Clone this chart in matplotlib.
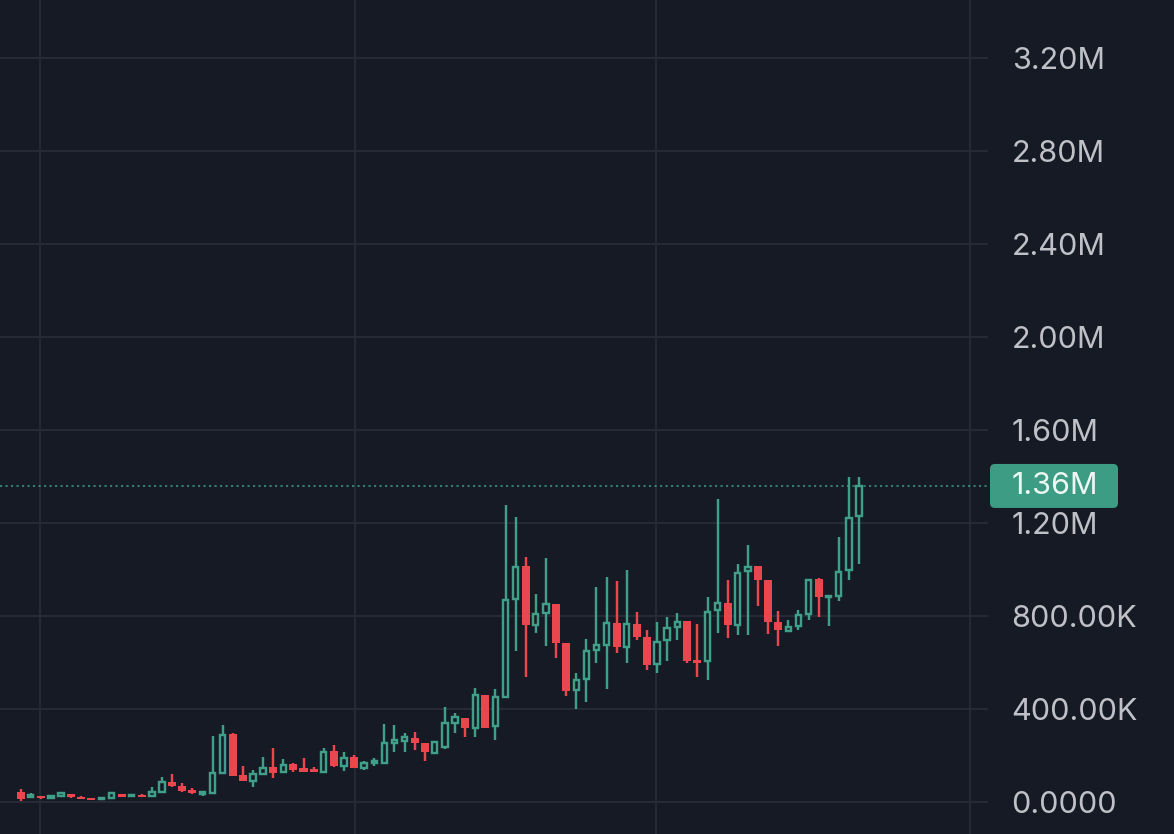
import matplotlib
matplotlib.use("Agg")
import matplotlib.pyplot as plt
from matplotlib.patches import Rectangle, FancyBboxPatch
from matplotlib.transforms import IdentityTransform, blended_transform_factory

# OHLC values (in units)
opens = [42e3, 20e3, 26e3, 19e3, 26e3, 33e3, 23e3, 17e3, 11.5e3, 16e3,
         34e3, 24e3, 32e3, 24e3, 44e3, 88e3, 70e3, 53e3, 33e3, 40e3,
         126e3, 292e3, 116e3, 90e3, 121e3, 150e3, 128e3, 162e3, 145e3, 140e3,
         131e3, 221e3, 156e3, 193e3, 148e3, 167e3, 169e3, 253e3, 264e3, 277e3,
         253e3, 210e3, 237e3, 339e3, 361e3, 318e3, 461e3, 325e3, 451e3, 875e3,
         1014e3, 763e3, 813e3, 853e3, 684e3, 480e3, 529e3, 654e3, 677e3, 770e3,
         669e3, 767e3, 712e3, 593e3, 698e3, 753e3, 777e3, 612e3, 605e3, 825e3,
         856e3, 763e3, 993e3, 1014e3, 954e3, 775e3, 734e3, 756e3, 810e3, 960e3,
         882e3, 888e3, 998e3, 1230e3]
highs = [55e3, 40e3, 27e3, 27e3, 44e3, 36e3, 24e3, 18e3, 20e3, 42e3,
         36e3, 33e3, 33e3, 64e3, 106e3, 120e3, 80e3, 60e3, 47e3, 284e3,
         331e3, 297e3, 155e3, 138e3, 193e3, 231e3, 184e3, 168e3, 188e3, 152e3,
         234e3, 246e3, 217e3, 203e3, 178e3, 191e3, 336e3, 332e3, 296e3, 300e3,
         253e3, 260e3, 410e3, 385e3, 361e3, 490e3, 461e3, 486e3, 1280e3, 1227e3,
         1055e3, 897e3, 1050e3, 853e3, 684e3, 555e3, 701e3, 925e3, 969e3, 952e3,
         1000e3, 818e3, 741e3, 773e3, 796e3, 813e3, 777e3, 767e3, 882e3, 1302e3,
         957e3, 1026e3, 1108e3, 1014e3, 954e3, 820e3, 781e3, 825e3, 954e3, 964e3,
         888e3, 1139e3, 1400e3, 1400e3]
lows = [5e3, 20e3, 15e3, 18e3, 26e3, 19e3, 12e3, 7e3, 10e3, 15e3,
        22e3, 23e3, 22e3, 20e3, 40e3, 64e3, 42e3, 35e3, 24e3, 40e3,
        126e3, 113e3, 90e3, 63e3, 121e3, 102e3, 128e3, 131e3, 128e3, 127e3,
        131e3, 150e3, 135e3, 145e3, 138e3, 156e3, 169e3, 217e3, 217e3, 224e3,
        178e3, 210e3, 228e3, 299e3, 279e3, 279e3, 318e3, 267e3, 451e3, 648e3,
        540e3, 727e3, 672e3, 619e3, 457e3, 400e3, 432e3, 600e3, 486e3, 641e3,
        598e3, 698e3, 566e3, 557e3, 605e3, 698e3, 600e3, 540e3, 526e3, 727e3,
        706e3, 720e3, 720e3, 842e3, 724e3, 672e3, 734e3, 741e3, 781e3, 796e3,
        759e3, 863e3, 957e3, 1022e3]
closes = [12e3, 30e3, 16e3, 26e3, 37e3, 20e3, 13e3, 8.6e3, 18.7e3, 37e3,
          23e3, 32e3, 23e3, 44e3, 85e3, 68e3, 48e3, 37e3, 44e3, 125e3,
          289e3, 114e3, 91e3, 119e3, 148e3, 124e3, 159e3, 138e3, 131e3, 130e3,
          217e3, 155e3, 191e3, 145e3, 167e3, 177e3, 253e3, 267e3, 279e3, 253e3,
          214e3, 260e3, 342e3, 365e3, 318e3, 461e3, 318e3, 452e3, 871e3, 1012e3,
          763e3, 810e3, 853e3, 684e3, 478e3, 523e3, 651e3, 674e3, 770e3, 668e3,
          767e3, 712e3, 590e3, 688e3, 749e3, 773e3, 605e3, 600e3, 818e3, 856e3,
          763e3, 986e3, 1012e3, 957e3, 775e3, 738e3, 753e3, 803e3, 954e3, 882e3,
          888e3, 988e3, 1223e3, 1360e3]

tick_values = [0, 400e3, 800e3, 1.2e6, 1.6e6, 2.0e6, 2.4e6, 2.8e6, 3.2e6]
tick_labels = ["0.0000", "400.00K", "800.00K", "1.20M", "1.60M",
               "2.00M", "2.40M", "2.80M", "3.20M"]
month_lines = [1.9, 33.1, 62.9, 94.0]
last_label = "1.36M"

BG = "#161a25"
GRID = "#262a36"
UP = "#3f9f89"
DOWN = "#e9474d"
TEXT = "#bfc1c7"

plt.rcParams["font.family"] = ["Inter", "DejaVu Sans"]

fig = plt.figure(figsize=(11.74, 8.34), dpi=100, facecolor=BG)
ax = fig.add_axes([0, 0, 988 / 1174, 1])
ax.set_facecolor(BG)
ax.set_xlim(-2.05, 95.77)
ax.set_ylim(-137.7e3, 3.451e6)

for s in ax.spines.values():
    s.set_visible(False)
ax.set_xticks([])
ax.yaxis.tick_right()
ax.set_yticks(tick_values, tick_labels)
ax.tick_params(axis="y", length=0, pad=17, labelsize=22, labelcolor=TEXT)
ax.grid(axis="y", color=GRID, lw=1.5)
for m in month_lines:
    ax.axvline(m, color=GRID, lw=1.5, zorder=0.5)

lw = 1.75
for i, (o, h, l, c) in enumerate(zip(opens, highs, lows, closes)):
    if c >= o:
        w = 0.52
        ax.vlines(i, c, h, color=UP, lw=lw, zorder=3)
        ax.vlines(i, l, o, color=UP, lw=lw, zorder=3)
        ax.add_patch(Rectangle((i - w / 2, o), w, max(c - o, 5e3),
                               facecolor=BG, edgecolor=UP, lw=lw, zorder=4))
    else:
        w = 0.8
        ax.vlines(i, l, h, color=DOWN, lw=lw, zorder=3)
        ax.add_patch(Rectangle((i - w / 2, c), w, max(o - c, 6e3),
                               facecolor=DOWN, edgecolor="none", zorder=4))

# last price line + label
last = closes[-1]
ax.axhline(last, color=UP, lw=1.1, ls=(0, (1.4, 2.2)), zorder=2)
fig.canvas.draw()
yc = ax.transData.transform((0, last))[1]
fig.add_artist(FancyBboxPatch((990, yc - 22), 128, 44,
                              boxstyle="round,pad=0,rounding_size=5",
                              facecolor="#3d9c84", edgecolor="none",
                              transform=IdentityTransform(), zorder=5))
trans = blended_transform_factory(fig.transFigure, ax.transData)
fig.text(1012 / 1174, last, last_label, transform=trans, ha="left", va="center",
         fontsize=22, color="#eef7f4", zorder=6)

fig.savefig("out.png", dpi=100, facecolor=BG)
